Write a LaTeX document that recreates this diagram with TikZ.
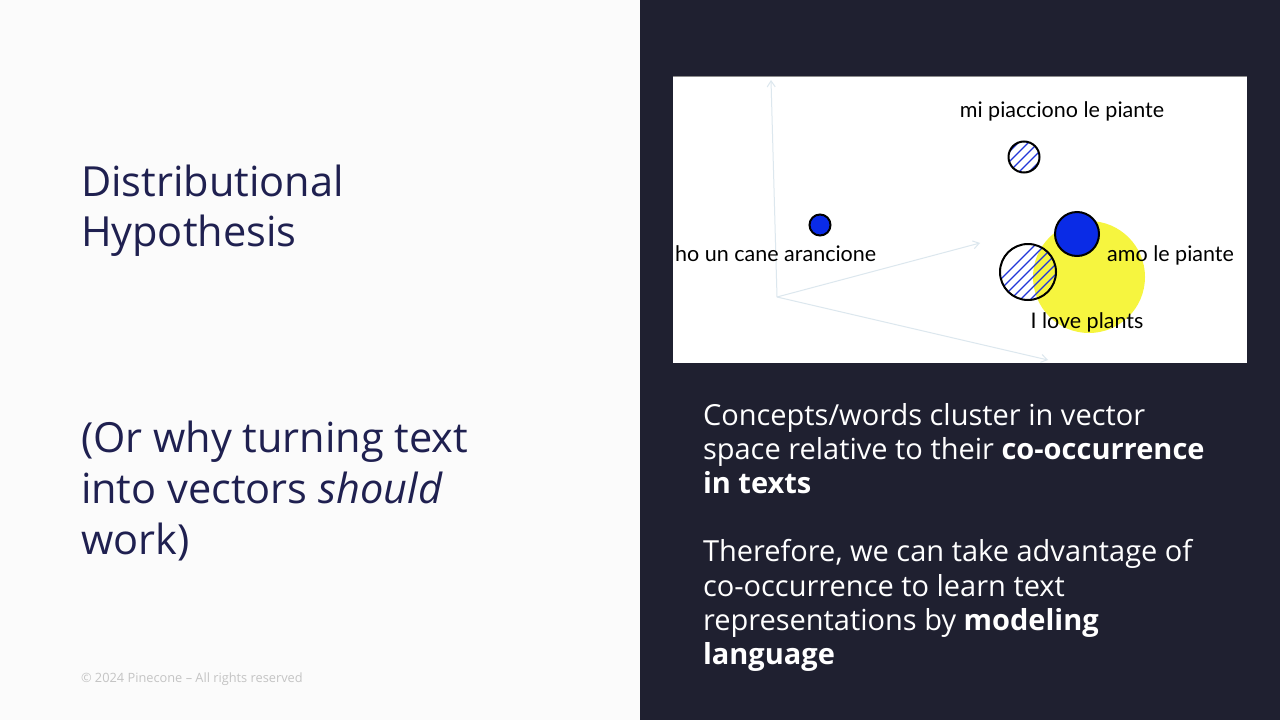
\documentclass[tikz,border=0pt]{standalone}
\usepackage{fontspec}
\setmainfont{Open Sans}
\newfontfamily\handfont{Lato}
\usetikzlibrary{arrows.meta,calc}
\definecolor{leftbg}{HTML}{FBFBFB}
\definecolor{panelbg}{HTML}{1F2030}
\definecolor{titlecol}{HTML}{1F2050}
\definecolor{footcol}{HTML}{C4C4C4}
\definecolor{axiscol}{HTML}{DCE7EE}
\definecolor{dotblue}{HTML}{0A2BE6}
\definecolor{hatchblue}{HTML}{2236D8}
\definecolor{glow}{HTML}{F6F53F}
\begin{document}
\begin{tikzpicture}[x=1pt,y=-1pt,
  txt/.style={anchor=base west, inner sep=0pt, outer sep=0pt},
  title/.style={txt, text=titlecol, font=\fontsize{41.5}{50}\selectfont},
  body/.style={txt, text=white, font=\fontsize{29}{34}\selectfont},
  hand/.style={inner sep=0pt, text=black, font=\handfont\fontsize{21.5}{24}\selectfont},
  axis/.style={draw=axiscol, line width=1pt, -{Straight Barb[length=6pt,width=8pt]}},
  dot/.style={circle, draw=black, line width=2pt, fill=dotblue, inner sep=0pt, minimum size=#1},
  hatched/.style={circle, draw=black, line width=2pt, inner sep=0pt, minimum size=#1,
    path picture={
      \foreach \k in {-2,...,4}
        \draw[hatchblue, line width=1.1pt]
          ($(path picture bounding box.center)+(\k*10-30,30)$) -- ++(60,-60);
    }},
]
% panels
\fill[leftbg] (0,0) rectangle (640,720);
\fill[panelbg] (640,0) rectangle (1280,720);
\useasboundingbox (0,0) rectangle (1280,720);

% left column
\node[title] (t1) at (81,196) {Distributional};
\node[title] (t2) at (81,246) {Hypothesis};
\node[title] (s1) at (81,452) {(Or why turning text};
\node[title] (s2) at (81,503) {into vectors \textit{should}};
\node[title] (s3) at (81,554) {work)};
\node[txt, text=footcol, font=\fontsize{12.8}{15}\selectfont] (foot) at (81,682)
  {© 2024 Pinecone – All rights reserved};

% plot frame
\fill[white] (673,76) rectangle (1247,363);
\draw[black!45, line width=0.6pt] (673,76.3) -- (1247,76.3);

% axes
\coordinate (o) at (777,297);
\coordinate (ay) at (771,80);
\coordinate (ax) at (980,243);
\coordinate (az) at (1048,360);
\draw[axis] (o) -- (ay);
\draw[axis] (o) -- (ax);
\draw[axis] (o) -- (az);

% points
\fill[glow] (1089,277) circle (56);
\node[dot=21] (p1) at (820,225) {};
\node[hatched=31] (p2) at (1024,157) {};
\node[dot=44] (p3) at (1077,234) {};
\node[hatched=56] (p4) at (1028,272) {};

% labels
\node[hand, anchor=base] (l1) at (1062,117) {mi piacciono le piante};
\node[hand, anchor=base west] (l2) at (675,261) {ho un cane arancione};
\node[hand, anchor=base west] (l3) at (1107,261) {amo le piante};
\node[hand, anchor=base] (l4) at (1087,328) {I love plants};

% right column text
\node[body] (b1) at (703,425) {Concepts/words cluster in vector};
\node[body] (b2) at (703,459) {space relative to their \textbf{co-occurrence}};
\node[body] (b3) at (703,493) {\textbf{in texts}};
\node[body] (c1) at (703,561) {Therefore, we can take advantage of};
\node[body] (c2) at (703,596) {co-occurrence to learn text};
\node[body] (c3) at (703,630) {representations by \textbf{modeling}};
\node[body] (c4) at (703,664) {\textbf{language}};
\end{tikzpicture}
\end{document}
